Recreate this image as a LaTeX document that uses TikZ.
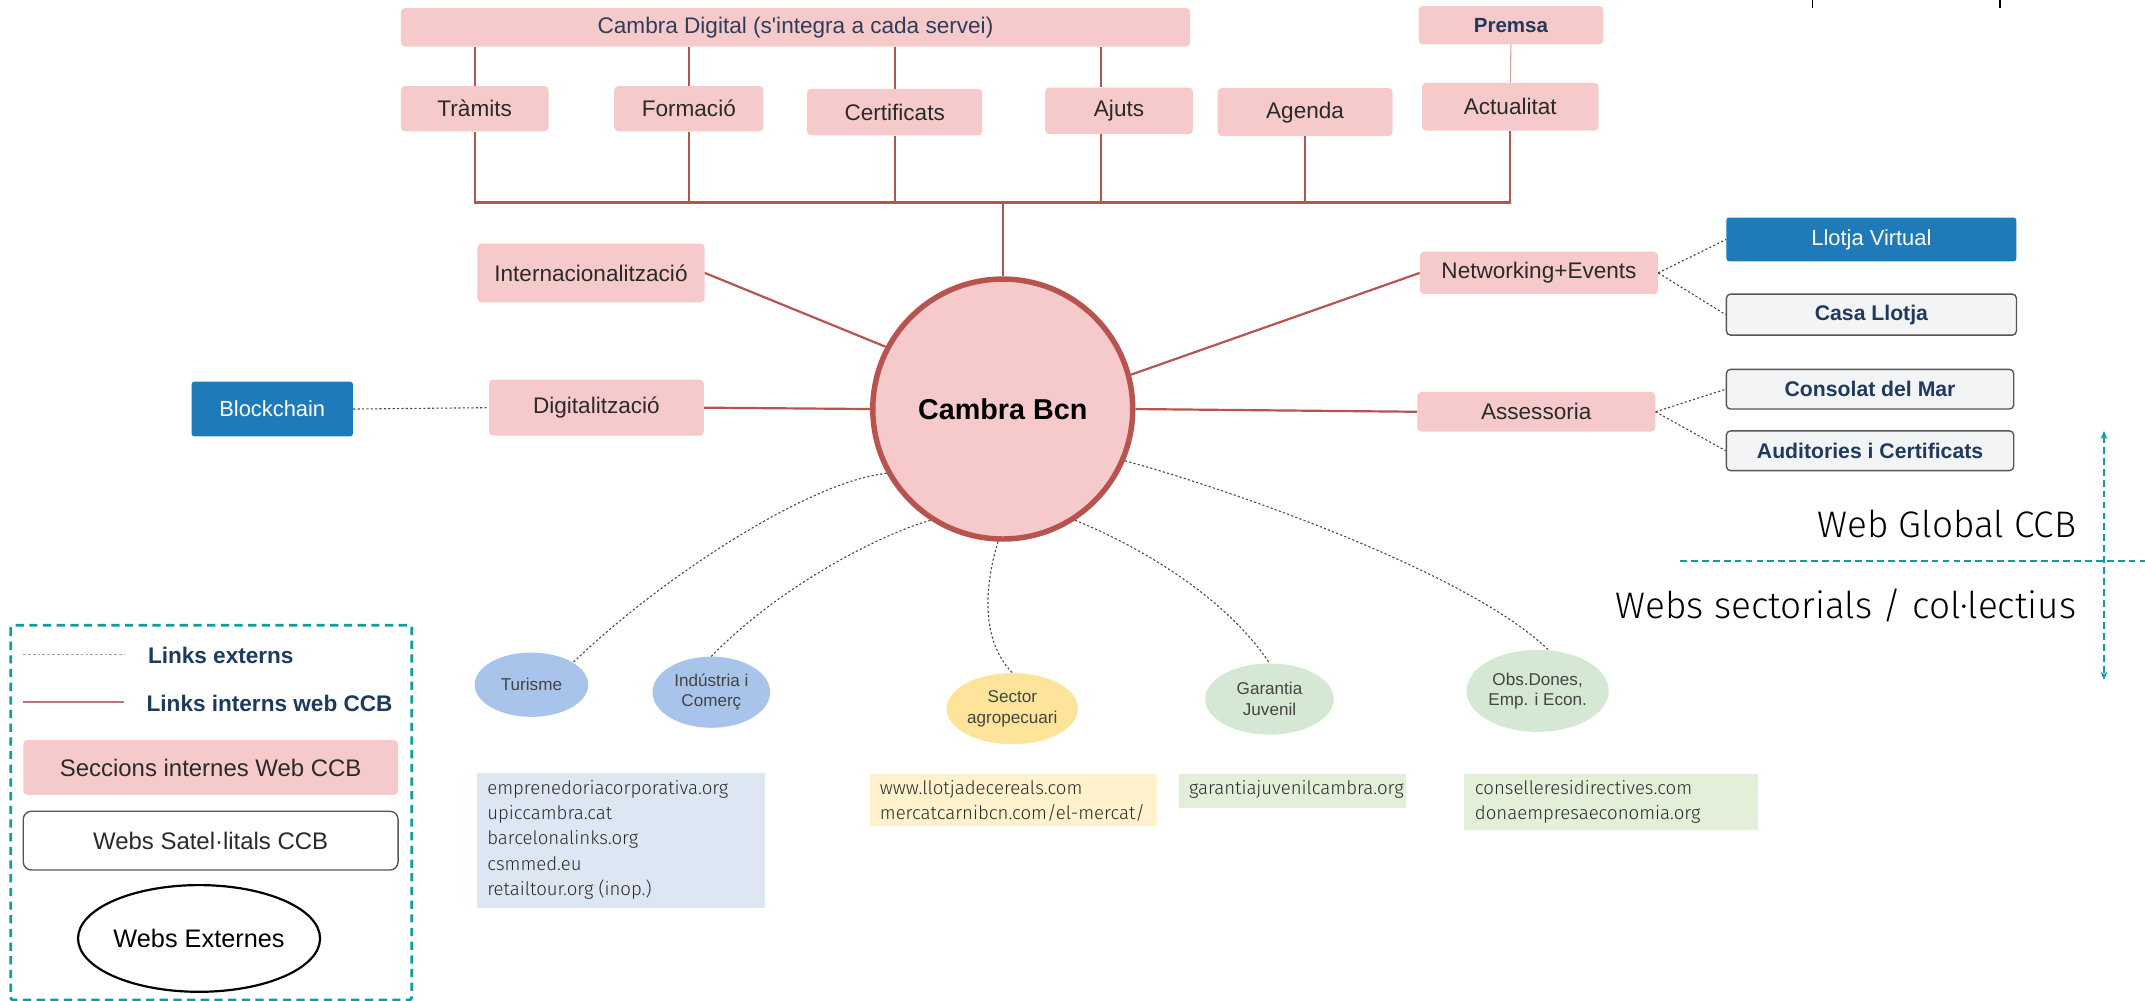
\documentclass[tikz,border=0pt]{standalone}
\usepackage{fontspec}
\setmainfont{Liberation Sans}
\newfontfamily\thinfont{Fira Sans Light}
\usetikzlibrary{shapes.geometric,arrows.meta,calc}
\definecolor{pinkfill}{HTML}{F6CACA}
\definecolor{linered}{HTML}{B85450}
\definecolor{navy}{HTML}{1F3A5F}
\definecolor{digtxt}{HTML}{2F3D5C}
\definecolor{txtdark}{HTML}{2A2A2A}
\definecolor{eltxt}{HTML}{444444}
\definecolor{llblue}{HTML}{1E7AB8}
\definecolor{grayfill}{HTML}{F3F4F6}
\definecolor{grayedge}{HTML}{555555}
\definecolor{elblue}{HTML}{A9C4EB}
\definecolor{elyellow}{HTML}{FDE49A}
\definecolor{elgreen}{HTML}{D5E8D4}
\definecolor{bxblue}{HTML}{DDE7F3}
\definecolor{bxyellow}{HTML}{FFF2CC}
\definecolor{bxgreen}{HTML}{E2EFD9}
\definecolor{tealc}{HTML}{109E9A}
\definecolor{dotcol}{HTML}{4A4A4A}
\definecolor{legred}{HTML}{C0747C}
\newcommand\fsz[2]{\fontsize{#1}{#2}\selectfont}
\tikzset{
  sec/.style={rounded corners=3pt, fill=pinkfill, draw=none, text=txtdark, font=\fsz{16.5}{19}, inner sep=0pt, align=center},
  sat/.style={rounded corners=3pt, fill=grayfill, draw=grayedge, line width=1pt, text=navy, font=\bfseries\fsz{15.5}{18}, inner sep=0pt},
  bluesat/.style={rounded corners=2pt, fill=llblue, draw=none, text=white, font=\fsz{16}{18}, inner sep=0pt},
  intl/.style={draw=linered, line width=1.6pt},
  extl/.style={draw=dotcol, line width=0.8pt, dash pattern=on 1.6pt off 1.6pt},
  extweb/.style={ellipse, draw=none, inner sep=0pt, text=eltxt, font=\fsz{12.5}{15}, align=center},
  urltext/.style={anchor=north west, inner sep=0pt, align=left, text=txtdark, font=\thinfont\fsz{13.6}{18.6}},
  legtxt/.style={anchor=west, inner sep=0pt, text=navy, font=\bfseries\fsz{16.5}{19}},
  bigtxt/.style={anchor=east, inner sep=0pt, text=black, font=\thinfont\fsz{27}{31}}
}
\begin{document}
\begin{tikzpicture}[x=1pt,y=-1pt]
\useasboundingbox (0,0) rectangle (1568,731.7);
\fill[white] (0,0) rectangle (1568,731.7);

% top fragments
\draw[black, line width=0.8pt] (1325,0) -- (1325,6);
\draw[black, line width=0.8pt] (1462,0) -- (1462,6);

% top bar and first row
\node[sec, minimum width=577, minimum height=28, text=digtxt] (digital) at (581.5,20) {Cambra Digital (s\textquotesingle integra a cada servei)};
\node[sec, minimum width=135, minimum height=28, text=navy, font=\bfseries\fsz{15}{18}] (premsa) at (1104.5,18.5) {Premsa};

\node[sec, minimum width=108, minimum height=33] (tramits) at (347,79.5) {Tràmits};
\node[sec, minimum width=109, minimum height=33] (formacio) at (503.5,79.5) {Formació};
\node[sec, minimum width=128, minimum height=34] (certificats) at (654,82) {Certificats};
\node[sec, minimum width=108, minimum height=34] (ajuts) at (818,81) {Ajuts};
\node[sec, minimum width=128, minimum height=35] (agenda) at (954,82) {Agenda};
\node[sec, minimum width=129, minimum height=35] (actualitat) at (1104,78) {Actualitat};

\coordinate (ajs) at (805,0);
\coordinate (bus) at (0,148);

\draw[intl] (tramits.north |- digital.south) -- (tramits.north);
\draw[intl] (formacio.north |- digital.south) -- (formacio.north);
\draw[intl] (certificats.north |- digital.south) -- (certificats.north);
\draw[intl] (ajs |- digital.south) -- (ajs |- ajuts.north);
\draw[draw=linered!55, line width=0.8pt] (premsa.south) -- (actualitat.north);

\draw[intl] (tramits.south) -- (tramits.south |- bus) -- (actualitat.south |- bus) -- (actualitat.south);
\draw[intl] (formacio.south) -- (formacio.south |- bus);
\draw[intl] (certificats.south) -- (certificats.south |- bus);
\draw[intl] (ajs |- ajuts.south) -- (ajs |- bus);
\draw[intl] (agenda.south) -- (agenda.south |- bus);

% central circle
\node[circle, fill=pinkfill, draw=linered, line width=4pt, minimum size=190, inner sep=0pt, font=\bfseries\fsz{21}{24}, text=black] (cb) at (733,299) {Cambra Bcn};
\draw[intl] (cb.north |- bus) -- (cb.north);

% left branches
\node[sec, minimum width=166, minimum height=43] (intern) at (432,199.5) {Internacionalització};
\node[sec, minimum width=157, minimum height=41] (digit) at (436,298) {Digitalització};
\node[bluesat, minimum width=118, minimum height=40] (block) at (199,299) {Blockchain};
\draw[intl] (intern.east) -- (cb.152);
\draw[intl] (digit.east) -- (cb.west);
\draw[extl] (block.east) -- (digit.west);

% right branches
\node[sec, minimum width=174, minimum height=31] (network) at (1125,199.5) {Networking+Events};
\node[sec, minimum width=174, minimum height=29] (assess) at (1123,301) {Assessoria};
\node[bluesat, minimum width=212, minimum height=32] (llotjav) at (1368,175) {Llotja Virtual};
\node[sat, minimum width=212, minimum height=30] (casa) at (1368,230) {Casa Llotja};
\node[sat, minimum width=210, minimum height=29] (consolat) at (1367,284.5) {Consolat del Mar};
\node[sat, minimum width=210, minimum height=29] (audit) at (1367,329.5) {Auditories i Certificats};
\draw[intl] (network.west) -- (cb.15);
\draw[intl] (cb.east) -- (assess.west);
\draw[extl] (network.east) -- (llotjav.west);
\draw[extl] (network.east) -- (casa.west);
\draw[extl] (assess.east) -- (consolat.west);
\draw[extl] (assess.east) -- (audit.west);

% teal separators
\draw[tealc, line width=1.3pt, dash pattern=on 5pt off 3pt, {Stealth[length=6pt,width=5pt]}-{Stealth[length=6pt,width=5pt]}] (1538,315) -- (1538,497);
\coordinate (sepL) at (1228,410);
\coordinate (sepR) at (1568,410);
\draw[tealc, line width=1.3pt, dash pattern=on 5pt off 3pt] (sepL) -- (sepR);
\node[bigtxt, anchor=base east] (webglobal) at (1518,393) {Web Global CCB};
\node[bigtxt, anchor=base east] (websect) at (1518,452) {Webs sectorials / col·lectius};

% external web ellipses
\node[extweb, fill=elblue, minimum width=83, minimum height=47] (tur) at (388.5,500.5) {Turisme};
\node[extweb, fill=elblue, minimum width=86, minimum height=52] (ind) at (520,506) {Indústria i\\Comerç};
\node[extweb, fill=elyellow, minimum width=96, minimum height=52] (sector) at (740,518) {Sector\\agropecuari};
\node[extweb, fill=elgreen, minimum width=94, minimum height=52] (garantia) at (928,511) {Garantia\\Juvenil};
\node[extweb, fill=elgreen, minimum width=104, minimum height=60] (obs) at (1124,505) {Obs.Dones,\\Emp. i Econ.};

\draw[extl] (cb.209) .. controls (590,352) and (480,425) .. (tur.28);
\draw[extl] (cb.237) .. controls (645,390) and (570,428) .. (ind.north);
\draw[extl] (cb.268) .. controls (722,420) and (714,465) .. (sector.north);
\draw[extl] (cb.303) .. controls (830,398) and (895,435) .. (garantia.north);
\draw[extl] (cb.337) .. controls (880,352) and (1070,415) .. (obs.75);

% url boxes
\fill[bxblue] (348.5,565) rectangle (559,664);
\node[urltext] (u1) at (356,570) {emprenedoriacorporativa.org\\upiccambra.cat\\barcelonalinks.org\\csmmed.eu\\retailtour.org (inop.)};
\fill[bxyellow] (636,566) rectangle (846,604);
\node[urltext] (u2) at (643,570) {www.llotjadecereals.com\\mercatcarnibcn.com/el-mercat/};
\fill[bxgreen] (862,566) rectangle (1028,591);
\node[urltext] (u3) at (869,570) {garantiajuvenilcambra.org};
\fill[bxgreen] (1070,566) rectangle (1285,607);
\node[urltext] (u4) at (1078,570) {conselleresidirectives.com\\donaempresaeconomia.org};

% legend
\draw[tealc, line width=2pt, dash pattern=on 6pt off 4pt, rounded corners=2pt] (7.8,457) rectangle (301,731);
\coordinate (l1a) at (17,478); \coordinate (l1b) at (91,478);
\draw[gray!70, line width=0.6pt, dash pattern=on 2pt off 1.5pt] (l1a) -- (l1b);
\node[legtxt] (lext) at (108,479) {Links externs};
\coordinate (l2a) at (17,513); \coordinate (l2b) at (91,513);
\draw[legred, line width=1.5pt] (l2a) -- (l2b);
\node[legtxt] (lint) at (107,514) {Links interns web CCB};
\node[sec, minimum width=274, minimum height=40, font=\fsz{17.5}{20}] (lsec) at (154,561) {Seccions internes Web CCB};
\node[rounded corners=6pt, draw=grayedge, line width=1pt, fill=white, minimum width=274, minimum height=43, inner sep=0pt, text=txtdark, font=\fsz{17.5}{20}] (lsat) at (154,614.5) {Webs Satel·litals CCB};
\node[ellipse, draw=black, line width=1.6pt, minimum width=158, minimum height=78, inner sep=0pt, text=black, font=\fsz{18.5}{21}] (lextw) at (145.5,686) {Webs Externes};
\end{tikzpicture}
\end{document}
